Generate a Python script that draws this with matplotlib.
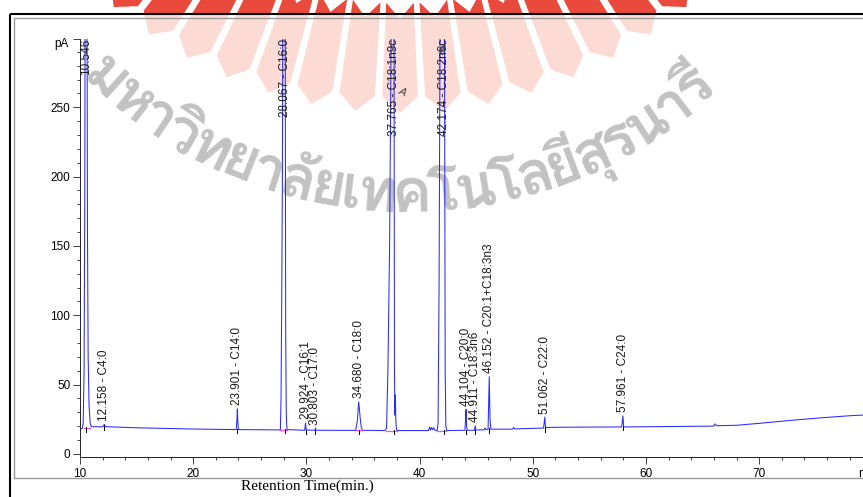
import unicodedata
import numpy as np
import matplotlib
matplotlib.use('Agg')
import matplotlib.pyplot as plt
from matplotlib import font_manager
from matplotlib.ft2font import FT2Font
from matplotlib.font_manager import FontProperties
from matplotlib.textpath import TextToPath
from matplotlib.patches import Polygon, Rectangle

# ---------------- data ----------------
# FID trace: retention time (min) against signal (pA); the big peaks run off scale
rt_min = [10.0, 10.2, 10.28, 10.36, 10.42, 10.47, 10.546, 10.60, 10.66, 10.72, 10.8, 10.9, 11.0,
          12.0, 12.1, 12.158, 12.22, 15.0, 20.0,
          23.8, 23.86, 23.901, 23.95, 24.0, 27.0,
          27.7, 27.76, 27.82, 27.88, 27.95, 28.067, 28.12, 28.17, 28.22, 28.28,
          29.85, 29.924, 29.98, 30.75, 30.803, 30.85,
          34.35, 34.5, 34.62, 34.75, 34.85, 34.95,
          36.95, 37.08, 37.2, 37.35, 37.5, 37.62, 37.7, 37.74, 37.78, 37.82, 37.86, 37.9, 37.96, 38.1,
          40.8, 40.88, 40.96, 41.06, 41.14, 41.25, 41.35,
          41.55, 41.63, 41.72, 41.85, 42.0, 42.12, 42.2, 42.26, 42.32, 42.4,
          44.0, 44.06, 44.104, 44.15, 44.2, 44.85, 44.911, 44.96,
          45.7, 45.78, 45.86, 46.05, 46.152, 46.22, 46.3,
          48.2, 48.3, 48.4, 50.95, 51.062, 51.12, 52.5,
          57.85, 57.961, 58.03, 66.0, 66.1, 66.25, 68.0, 70.0, 73.0, 75.5, 78.0, 80.0]
signal_pa = [18.0, 18.3, 22, 60, 180, 400, 900, 420, 160, 70, 35, 22, 19.6,
             19.5, 20.6, 21.3, 19.6, 18.8, 17.9,
             17.5, 24, 32.4, 22, 17.5, 17.3,
             17.3, 40, 112, 200, 450, 900, 350, 90, 30, 17.5,
             17.0, 22.3, 17.2, 17.0, 18.6, 17.0,
             16.9, 24, 37.5, 26, 19, 17,
             16.8, 18.5, 60, 150, 320, 700, 900, 300, 60, 28, 42.5, 24, 17.3, 16.8,
             16.8, 19.3, 17.2, 19.0, 17.3, 18.8, 17.0,
             16.8, 22, 120, 400, 900, 900, 300, 60, 20, 16.8,
             17.0, 25, 32.1, 20, 17.0, 17.0, 20.2, 17.2,
             17.3, 18.6, 17.5, 17.8, 55.6, 25, 17.8,
             17.8, 19.0, 18.0, 18.6, 26.5, 19.0, 19.2,
             19.4, 27.4, 19.4, 20.0, 21.6, 20.3, 20.6, 22.0, 24.3, 26.0, 27.5, 28.3]

peak_rt = [10.546, 12.158, 23.901, 28.067, 29.924, 30.803, 34.680,
           37.765, 42.174, 44.104, 44.911, 46.152, 51.062, 57.961]
peak_name = ['', 'C4:0', 'C14:0', 'C16:0', 'C16:1', 'C17:0', 'C18:0',
             'C18:1n9c', 'C18:2n6c', 'C20:0', 'C18:3n6', 'C20:1+C18:3n3', 'C22:0', 'C24:0']
peak_top = [900, 21.3, 32.4, 900, 22.3, 18.6, 37.5, 900, 900, 32.1, 20.2, 55.6, 26.5, 27.4]
peak_base = [18.5, 19.5, 17.5, 17.3, 17.0, 17.0, 16.9, 16.8, 16.8, 17.0, 17.0, 17.8, 18.6, 19.4]

# integration baselines (magenta) under the large peaks
int_from = [10.35, 27.70, 34.40, 37.05, 41.55]
int_to = [10.90, 28.30, 34.95, 38.00, 42.35]
int_level = [18.6, 17.3, 16.9, 16.8, 16.8]

y_ticks = [0, 50, 100, 150, 200, 250]
x_ticks = [10, 20, 30, 40, 50, 60, 70]

watermark = 'มหาวิทยาลัยเทคโนโลยีสุรนารี'

# ---------------- fonts ----------------
def thai_font():
    found = []
    for f in font_manager.fontManager.ttflist:
        try:
            if FT2Font(f.fname).get_char_index(0x0E21):
                found.append(f.name)
        except Exception:
            pass
    for name in found:
        if 'Sans' in name or 'Loma' in name or 'Garuda' in name:
            return name
    return found[0] if found else 'DejaVu Sans'

SANS = 'Liberation Sans'
THAI = thai_font()

W, H = 863, 497
fig = plt.figure(figsize=(W / 100, H / 100), dpi=100)

# background layer in image pixel coordinates (y down)
bg = fig.add_axes([0, 0, 1, 1], zorder=0)
bg.set_xlim(0, W)
bg.set_ylim(H, 0)
bg.axis('off')

# ---- watermark: sun-ray logo ----
cx, cy = 400.0, -327.0
r_in, r_out, notch = 330.0, 440.0, 16.0
half = np.radians(2.4)
inside = Rectangle((0, 14), W, H, transform=bg.transData)
outside = Rectangle((0, -5), W, 19, transform=bg.transData)
for k in range(-7, 8):
    a = np.radians(k * 5.8)
    def pt(r, t):
        return (cx + r * np.sin(t), cy + r * np.cos(t))
    pts = [pt(r_in, a - half), pt(r_in + notch, a), pt(r_in, a + half),
           pt(r_out - notch, a + half), pt(r_out, a), pt(r_out - notch, a - half)]
    p1 = Polygon(pts, closed=True, facecolor='#fcdbd4', edgecolor='none')
    bg.add_patch(p1)
    p1.set_clip_path(inside)
    p2 = Polygon(pts, closed=True, facecolor='#ea4a3c', edgecolor='none')
    bg.add_patch(p2)
    p2.set_clip_path(outside)

# ---- watermark: university name along an arc ----
clusters = []
for ch in watermark:
    if clusters and unicodedata.category(ch) == 'Mn':
        clusters[-1] += ch
    else:
        clusters.append(ch)
fp = FontProperties(family=THAI, weight='bold', size=100)
ttp = TextToPath()
widths = [ttp.get_text_width_height_descent(c, fp, ismath=False)[0] * 100 / 72 for c in clusters]
tx, ty, R = 405.0, -250.0, 462.0
phi0, phi1 = np.radians(-44.5), np.radians(42.5)
scale = R * (phi1 - phi0) / sum(widths)
grow = 1.12   # glyphs drawn a little larger than their spacing
s = 0.0
for c, w in zip(clusters, widths):
    w = w * scale
    phi = phi0 + (s + w / 2) / R
    bg.text(tx + R * np.sin(phi), ty + R * np.cos(phi), c, rotation=np.degrees(phi),
            rotation_mode='anchor', ha='center', va='baseline', fontsize=100 * scale * grow,
            family=[THAI, 'DejaVu Sans'], fontweight='bold', color='#c2c2c2')
    s += w

# ---- screenshot frame ----
bg.plot([10, 10], [14, H], color='black', lw=1.5, solid_capstyle='butt')
bg.plot([10, W], [14, 14], color='black', lw=1.5, solid_capstyle='butt')
bg.plot([14.2, 14.2, W], [478, 18, 18], color='#9a9a9a', lw=1.0)
bg.plot([14.2, W], [478, 478], color='#9a9a9a', lw=1.0)
bg.text(69, 44, 'pA', ha='right', va='center', fontsize=8.5, family=SANS)
bg.text(307.5, 486, 'Retention Time(min.)', ha='center', va='center', fontsize=11,
        family='Liberation Serif')

# ---------------- chromatogram ----------------
x0, x1 = 10, 80
y0, y1 = -2.5, 299.5
ax = fig.add_axes([80 / W, (H - 457.3) / H, 792.4 / W, 418.6 / H], zorder=1)
ax.patch.set_alpha(0)
ax.set_xlim(x0, x1)
ax.set_ylim(y0, y1)

ax.plot(rt_min, signal_pa, color='#2a2aff', lw=0.75)
for a, b, lv in zip(int_from, int_to, int_level):
    ax.plot([a, b], [lv, lv], color='#ff44ff', lw=0.9)
for rt, lv in zip(peak_rt, peak_base):
    ax.plot([rt, rt], [lv - 2.5, lv + 0.5], color='black', lw=0.7)

for rt, name, top in zip(peak_rt, peak_name, peak_top):
    label = '%.3f - %s' % (rt, name) if name else '%.3f' % rt
    if top > y1:
        ax.text(rt, y1, label, rotation=90, ha='center', va='top', fontsize=8.5,
                family=SANS, color='#1a1a1a')
    else:
        ax.annotate(label, xy=(rt, top), xytext=(0, 2.5), textcoords='offset points',
                    rotation=90, ha='center', va='bottom', fontsize=8.5,
                    family=SANS, color='#1a1a1a')

# handwritten marks on the printout
ax.text(38.5, 261, 'A', rotation=-25, ha='center', va='center', fontsize=8,
        style='italic', color='#444444', family=SANS)
ax.text(41.95, 291, 'ℓ', rotation=-10, ha='center', va='center', fontsize=10,
        style='italic', color='#444444')

for side in ['top', 'right']:
    ax.spines[side].set_visible(False)
for side in ['left', 'bottom']:
    ax.spines[side].set_linewidth(0.7)
    ax.spines[side].set_color('#222222')

ax.set_xticks(x_ticks)
ax.set_xticklabels([str(v) for v in x_ticks])
ax.set_xticks(np.arange(10, 80, 2), minor=True)
ax.set_yticks(y_ticks + [y1])
ax.set_yticklabels([str(v) for v in y_ticks] + [''])
ax.set_yticks(np.arange(10, 300, 10), minor=True)
ax.tick_params(which='major', length=5, width=0.6, color='#222222', labelsize=8.5, pad=2)
ax.tick_params(which='minor', length=2.5, width=0.6, color='#222222')
ax.tick_params(axis='x', which='major', pad=3)
for lab in ax.get_xticklabels() + ax.get_yticklabels():
    lab.set_family(SANS)
ax.text(79.6, -0.025, 'min', transform=ax.get_xaxis_transform(), ha='center', va='top',
        fontsize=8.5, family=SANS)

fig.savefig('out.png', dpi=100)
